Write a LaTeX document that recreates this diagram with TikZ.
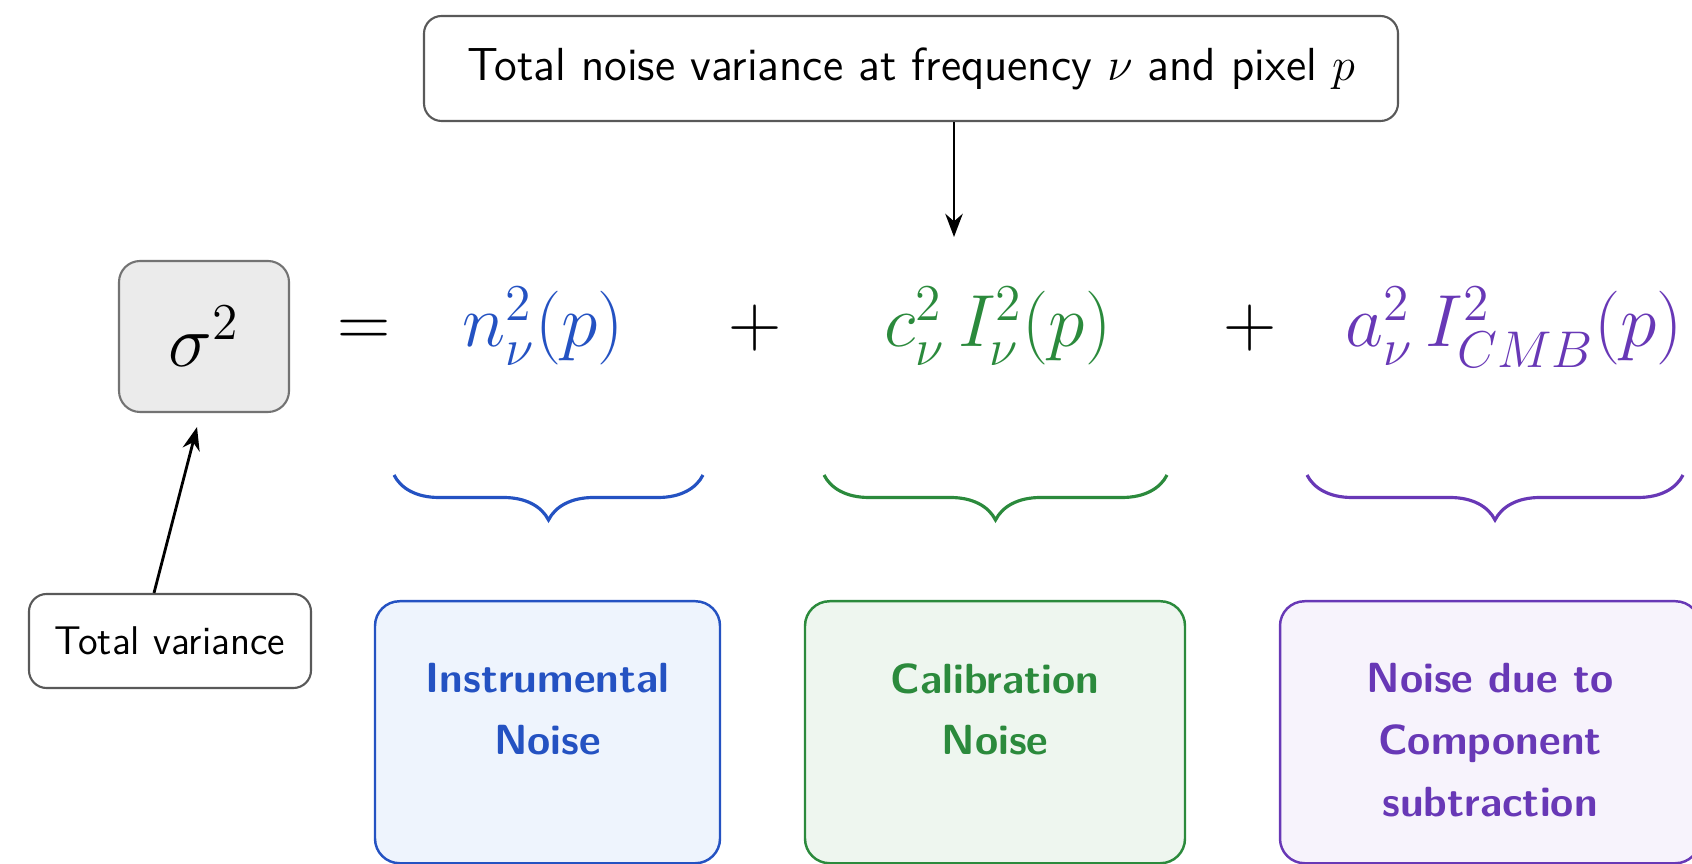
\documentclass[tikz,border=0pt]{standalone}
\usepackage{fix-cm}
\usepackage{amsmath,amssymb}
\usepackage{xcolor}
\usepackage{tikz}
\usetikzlibrary{
  arrows.meta,
  positioning,
  calc,
  decorations.pathreplacing
}

\definecolor{instblue}{HTML}{2452C2}
\definecolor{calgreen}{HTML}{2B8A3C}
\definecolor{comppurple}{HTML}{6838B6}
\definecolor{instfill}{HTML}{EEF4FD}
\definecolor{calfill}{HTML}{EEF6EF}
\definecolor{compfill}{HTML}{F7F3FC}

\newcommand{\boxtext}[2]{\parbox[c][2.62cm][t]{#1}{\centering\vspace*{0.62cm}#2}}

\begin{document}
\begin{tikzpicture}[
  eqfont/.style={font=\fontsize{21}{25}\selectfont, anchor=base, inner sep=0pt},
  labelbox/.style={draw=black!65, line width=0.6pt, rounded corners=5pt, fill=white, font=\sffamily},
  notebox/.style={line width=0.7pt, rounded corners=7pt, inner sep=0pt, minimum height=2.62cm,
    anchor=north, font=\sffamily\bfseries\fontsize{12}{17.6}\selectfont},
  underbrace/.style={decorate, line width=0.9pt, decoration={brace, mirror, amplitude=0.45cm}},
  arr/.style={->, >=Stealth, line width=0.8pt}
]
\useasboundingbox (0,0) rectangle (16.92,8.63);

% header box and its arrow
\node[labelbox, minimum width=9.74cm, minimum height=1.05cm,
  font=\sffamily\fontsize{13.2}{16}\selectfont] (header) at (9.11,7.945)
  {Total noise variance at frequency $\nu$ and pixel $p$};
\coordinate (headtip) at (9.54,6.26);
\draw[arr] (header.south -| headtip) -- (headtip);

% the equation
\node[draw=black!55, line width=0.6pt, rounded corners=6pt, fill=black!8,
  minimum width=1.70cm, minimum height=1.51cm,
  font=\fontsize{21}{25}\selectfont] (sigma) at (2.04,5.265) {$\sigma^2$};
\node[eqfont] (eq) at (3.64,5.16) {$=$};
\node[eqfont, text=instblue] (nterm) at (5.43,5.16) {$n_\nu^2(p)$};
\node[eqfont] (plusa) at (7.55,5.16) {$+$};
\node[eqfont, text=calgreen] (cterm) at (9.98,5.16) {$c_\nu^2\,I_\nu^2(p)$};
\node[eqfont] (plusb) at (12.50,5.16) {$+$};
\node[eqfont, text=comppurple] (aterm) at (15.14,5.16) {$a_\nu^2\,I_{CMB}^2(p)$};

% braces under the three terms
\draw[underbrace, instblue] (3.94,3.88) -- (7.03,3.88);
\draw[underbrace, calgreen] (8.24,3.88) -- (11.67,3.88);
\draw[underbrace, comppurple] (13.07,3.88) -- (16.83,3.88);

% what each term means
\node[notebox, draw=instblue, fill=instfill, text=instblue, minimum width=3.45cm] (inst) at (5.475,2.63)
  {\boxtext{3.45cm}{Instrumental\\Noise}};
\node[notebox, draw=calgreen, fill=calfill, text=calgreen, minimum width=3.80cm] (cal) at (9.95,2.63)
  {\boxtext{3.80cm}{Calibration\\Noise}};
\node[notebox, draw=comppurple, fill=compfill, text=comppurple, minimum width=4.20cm] (comp) at (14.90,2.63)
  {\boxtext{4.20cm}{Noise due to\\Component\\subtraction}};

% total variance label
\node[labelbox, minimum width=2.82cm, minimum height=0.94cm,
  font=\sffamily\fontsize{11.4}{14}\selectfont] (total) at (1.70,2.22) {Total variance};
\draw[arr] ([xshift=-1.6mm]total.north) -- ([xshift=-0.7mm,yshift=-1.4mm]sigma.south);
\end{tikzpicture}
\end{document}
